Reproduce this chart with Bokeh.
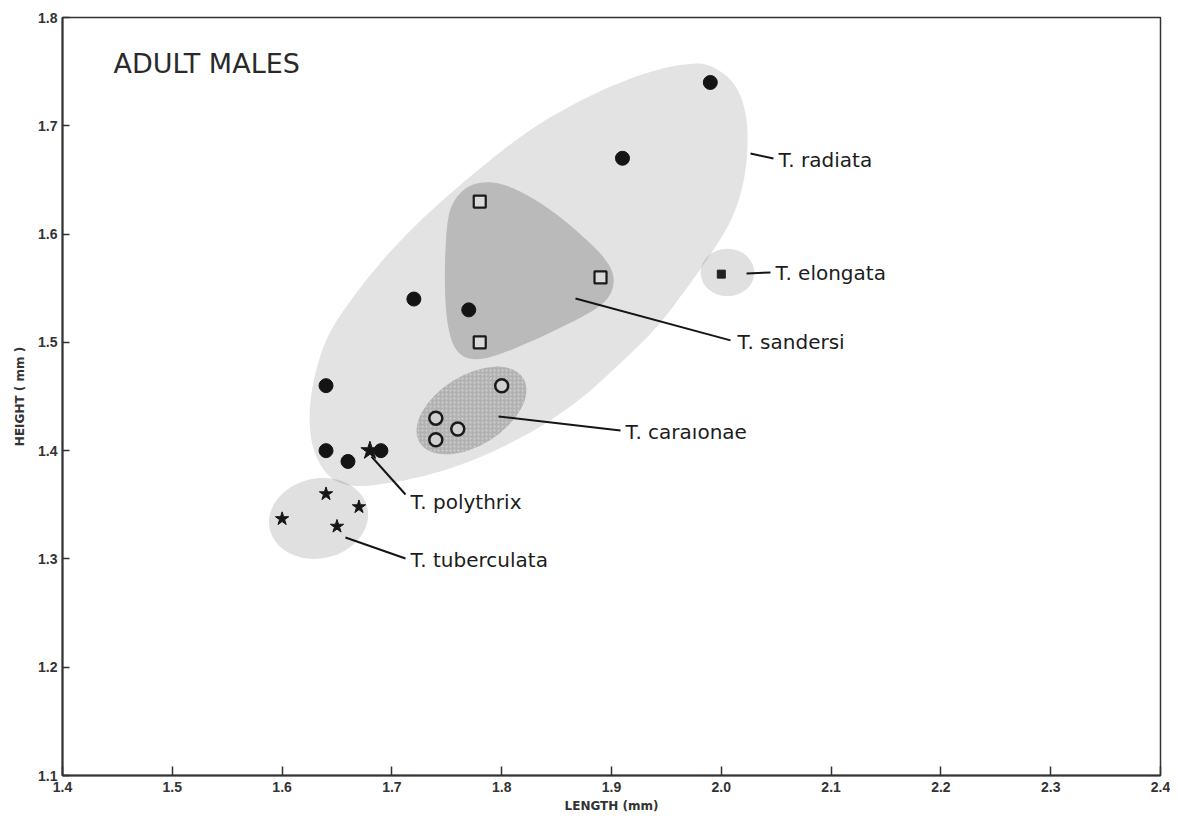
import numpy as np
from bokeh.plotting import figure
from bokeh.models import FixedTicker, PrintfTickFormatter
from bokeh.core.properties import value
from bokeh.embed import file_html
from bokeh.resources import INLINE

# ---- data ----
x_ticks = [1.4, 1.5, 1.6, 1.7, 1.8, 1.9, 2.0, 2.1, 2.2, 2.3, 2.4]
y_ticks = [1.1, 1.2, 1.3, 1.4, 1.5, 1.6, 1.7, 1.8]

radiata_x = [1.99, 1.91, 1.72, 1.77, 1.64, 1.64, 1.66, 1.69]
radiata_y = [1.74, 1.67, 1.54, 1.53, 1.46, 1.40, 1.39, 1.40]

sandersi_x = [1.78, 1.89, 1.78]
sandersi_y = [1.63, 1.56, 1.50]

elongata_x = [2.00]
elongata_y = [1.563]

caraionae_x = [1.80, 1.74, 1.76, 1.74]
caraionae_y = [1.46, 1.43, 1.42, 1.41]

tuberculata_x = [1.60, 1.64, 1.67, 1.65]
tuberculata_y = [1.337, 1.36, 1.348, 1.33]

polythrix_x = [1.68]
polythrix_y = [1.40]

# species ranges drawn as shaded regions
# radiata range outline
radiata_outline_x = [1.9874, 2.0084, 2.0202, 2.0248, 2.0220, 2.0111, 1.9929, 1.9719,
                     1.9419, 1.9109, 1.8745, 1.8353, 1.7898, 1.7443, 1.6987, 1.6623,
                     1.6413, 1.6277, 1.6240, 1.6286, 1.6413, 1.6687, 1.6987, 1.7352,
                     1.7743, 1.8199, 1.8654, 1.9109, 1.9474, 1.9719]
radiata_outline_y = [1.7575, 1.7446, 1.7234, 1.6929, 1.6523, 1.6153, 1.5849, 1.5544,
                     1.5138, 1.4833, 1.4491, 1.4214, 1.3974, 1.3799, 1.3697, 1.3660,
                     1.3753, 1.4002, 1.4307, 1.4676, 1.5082, 1.5479, 1.5849, 1.6218,
                     1.6560, 1.6929, 1.7206, 1.7418, 1.7538, 1.7575]

sandersi_outline_x = [1.7506, 1.7579, 1.7698, 1.7852, 1.8035, 1.8262, 1.8517, 1.8763,
                      1.8945, 1.9027, 1.9009, 1.8900, 1.8672, 1.8353, 1.8035, 1.7789,
                      1.7625, 1.7534, 1.7488, 1.7479]
sandersi_outline_y = [1.6172, 1.6338, 1.6449, 1.6486, 1.6458, 1.6347, 1.6172, 1.5959,
                      1.5775, 1.5618, 1.5461, 1.5331, 1.5202, 1.5045, 1.4907, 1.4833,
                      1.4870, 1.5017, 1.5294, 1.5710]

# small ranges as ellipses (centre, width, height, angle in deg)
region_names = ["elongata", "tuberculata"]
region_cx = [2.0056, 1.6332]
region_cy = [1.5645, 1.3374]
region_w = [0.049, 0.091]
region_h = [0.044, 0.074]
region_angle = [0, 12]

caraionae_region = dict(cx=1.7725, cy=1.4371, w=0.111, h=0.0646, angle=32)

label_text = ["T. radiata", "T. elongata", "T. sandersi", "T. caraıonae",
              "T. polythrix", "T. tuberculata"]
label_x = [2.0521, 2.0494, 2.0148, 1.9128, 1.7169, 1.7169]
label_y = [1.668, 1.5645, 1.500, 1.4168, 1.3522, 1.2986]
leader_x0 = [2.0266, 2.0230, 1.8672, 1.7971, 1.6814, 1.6577]
leader_y0 = [1.6744, 1.5636, 1.5405, 1.4316, 1.3946, 1.3198]
leader_x1 = [2.0475, 2.0448, 2.0084, 1.9082, 1.7124, 1.7124]
leader_y1 = [1.6698, 1.5645, 1.5018, 1.4186, 1.3595, 1.3004]

title_text = "ADULT MALES"
title_x = 1.4464
title_y = 1.7575


def smooth_closed(xs, ys, iterations=3):
    """Chaikin corner cutting of a closed outline (for drawing only)."""
    pts = np.column_stack([xs, ys]).astype(float)
    for _ in range(iterations):
        nxt = np.roll(pts, -1, axis=0)
        q = 0.75 * pts + 0.25 * nxt
        r = 0.25 * pts + 0.75 * nxt
        pts = np.empty((2 * len(q), 2))
        pts[0::2] = q
        pts[1::2] = r
    return list(pts[:, 0]), list(pts[:, 1])


# ---- figure ----
p = figure(width=1170, height=818, x_range=(1.4, 2.4), y_range=(1.1, 1.8),
           output_backend="svg", toolbar_location=None,
           min_border_left=62, min_border_right=10, min_border_top=17, min_border_bottom=43)
p.grid.visible = False
p.outline_line_color = "#333333"
p.outline_line_width = 1.5
p.background_fill_color = "white"
p.border_fill_color = "white"

for ax in (p.xaxis, p.yaxis):
    ax.axis_line_color = "#333333"
    ax.axis_line_width = 2
    ax.major_tick_line_color = "#333333"
    ax.major_tick_line_width = 1.5
    ax.major_tick_out = 0
    ax.minor_tick_line_color = None
    ax.major_label_text_font = "Liberation Sans"
    ax.major_label_text_font_style = "bold"
    ax.major_label_text_font_size = "14px"
    ax.major_label_text_color = "#333333"
    ax.axis_label_text_font = "DejaVu Sans"
    ax.axis_label_text_font_style = "bold"
    ax.axis_label_text_font_size = "12px"
    ax.axis_label_text_color = "#333333"
    ax.formatter = PrintfTickFormatter(format="%.1f")

p.xaxis.ticker = FixedTicker(ticks=x_ticks)
p.yaxis.ticker = FixedTicker(ticks=y_ticks)
p.xaxis.major_tick_in = 9
p.yaxis.major_tick_in = 7
p.xaxis.major_label_standoff = 6
p.yaxis.major_label_standoff = 5
p.xaxis.axis_label = "LENGTH (mm)"
p.yaxis.axis_label = "HEIGHT ( mm )"
p.xaxis.axis_label_standoff = 4
p.yaxis.axis_label_standoff = 8

# shaded regions
rx, ry = smooth_closed(radiata_outline_x, radiata_outline_y)
p.patch(rx, ry, fill_color="black", fill_alpha=0.11, line_color=None)
p.ellipse(x=region_cx, y=region_cy, width=region_w, height=region_h,
          angle=list(np.deg2rad(region_angle)),
          fill_color="black", fill_alpha=0.12, line_color=None)
sx, sy = smooth_closed(sandersi_outline_x, sandersi_outline_y, iterations=2)
p.patch(sx, sy, fill_color="black", fill_alpha=0.18, line_color=None)
p.ellipse(x=[caraionae_region["cx"]], y=[caraionae_region["cy"]],
          width=[caraionae_region["w"]], height=[caraionae_region["h"]],
          angle=[np.deg2rad(caraionae_region["angle"])],
          fill_color="#b2b2b2", line_color=None,
          hatch_pattern="dot", hatch_color="#d2d2d2", hatch_scale=4, hatch_weight=1.0)

# leader lines
p.segment(leader_x0, leader_y0, leader_x1, leader_y1, line_color="#151515", line_width=2)

# points
p.scatter(radiata_x, radiata_y, marker="circle", size=14, color="#141414")
p.scatter(sandersi_x, sandersi_y, marker="square", size=12, fill_color="#dadada",
          line_color="#1a1a1a", line_width=2.2)
p.scatter(elongata_x, elongata_y, marker="square", size=8, fill_color="#222222",
          line_color="#222222")
p.scatter(caraionae_x, caraionae_y, marker="circle", size=13, fill_color="#d0d0d0",
          line_color="#1a1a1a", line_width=2.5)
p.scatter(tuberculata_x, tuberculata_y, marker="star", size=14, color="#161616")
p.scatter(polythrix_x, polythrix_y, marker="star", size=19, color="#161616")

# labels
p.text(x=label_x, y=label_y, text=label_text, text_font=value("DejaVu Sans"),
       text_font_size=value("20px"), text_baseline="middle", text_align="left",
       text_color="#1c1c1c")
p.text(x=[title_x], y=[title_y], text=[title_text], text_font=value("DejaVu Sans"),
       text_font_size=value("27px"), text_baseline="middle", text_align="left",
       text_color="#2a2a2a")

open("out.html", "w").write(file_html(p, INLINE))
